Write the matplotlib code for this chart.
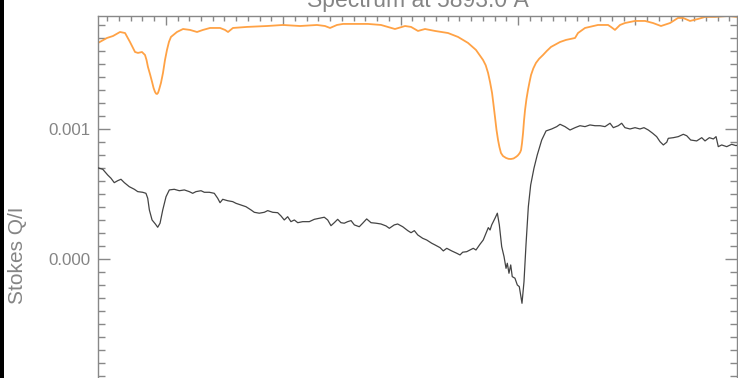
import matplotlib
matplotlib.use("Agg")
import matplotlib.pyplot as plt
from matplotlib.ticker import MultipleLocator, FormatStrFormatter
from matplotlib.patches import Rectangle
import numpy as np

# ---- data ----
# Stokes Q/I profile (wavelength in Angstrom, Q/I in units of 1e-4)
wl_q = [5886.425, 5886.434, 5886.463, 5886.505, 5886.533, 5886.561, 5886.590, 5886.618, 5886.647,
        5886.689, 5886.732, 5886.761, 5886.803, 5886.831, 5886.846, 5886.860, 5886.883, 5886.911,
        5886.931, 5886.951, 5886.974, 5887.002, 5887.030, 5887.072, 5887.115, 5887.158, 5887.200,
        5887.229, 5887.257, 5887.300, 5887.328, 5887.371, 5887.413, 5887.442, 5887.462, 5887.485,
        5887.527, 5887.570, 5887.598, 5887.641, 5887.683, 5887.726, 5887.754, 5887.796, 5887.839,
        5887.868, 5887.911, 5887.953, 5887.981, 5888.009, 5888.038, 5888.066, 5888.095, 5888.124,
        5888.166, 5888.222, 5888.265, 5888.308, 5888.350, 5888.379, 5888.407, 5888.435, 5888.464,
        5888.492, 5888.520, 5888.549, 5888.578, 5888.606, 5888.648, 5888.677, 5888.711, 5888.748,
        5888.791, 5888.833, 5888.876, 5888.904, 5888.946, 5888.975, 5889.018, 5889.061, 5889.089,
        5889.117, 5889.146, 5889.188, 5889.222, 5889.265, 5889.293, 5889.336, 5889.364, 5889.393,
        5889.435, 5889.478, 5889.506, 5889.529, 5889.563, 5889.591, 5889.619, 5889.642, 5889.676,
        5889.704, 5889.733, 5889.747, 5889.762, 5889.776, 5889.804, 5889.824, 5889.841, 5889.861,
        5889.881, 5889.898, 5889.909, 5889.923, 5889.938, 5889.951, 5889.974, 5889.994, 5890.011,
        5890.034, 5890.051, 5890.068, 5890.088, 5890.108, 5890.136, 5890.164, 5890.202, 5890.239,
        5890.287, 5890.330, 5890.358, 5890.400, 5890.443, 5890.486, 5890.528, 5890.571, 5890.613,
        5890.656, 5890.699, 5890.741, 5890.784, 5890.812, 5890.854, 5890.883, 5890.911, 5890.954,
        5890.997, 5891.039, 5891.073, 5891.110, 5891.147, 5891.181, 5891.210, 5891.238, 5891.267,
        5891.280, 5891.323, 5891.365, 5891.408, 5891.437, 5891.471, 5891.522, 5891.565, 5891.593,
        5891.630, 5891.664, 5891.687, 5891.706, 5891.735, 5891.778, 5891.820, 5891.857, 5891.870]
q_e4 = [7.00, 6.98, 6.90, 6.46, 6.21, 5.87, 6.02, 6.13, 5.87,
        5.56, 5.36, 5.18, 5.13, 5.05, 4.67, 3.77, 3.00, 2.69,
        2.44, 2.75, 3.77, 4.79, 5.31, 5.36, 5.25, 5.31, 5.18,
        5.05, 5.18, 5.25, 5.13, 5.13, 5.05, 4.67, 4.33, 4.59,
        4.48, 4.41, 4.28, 4.15, 4.02, 3.77, 3.59, 3.52, 3.59,
        3.72, 3.59, 3.56, 3.31, 3.00, 3.25, 2.87, 3.00, 2.79,
        2.87, 2.87, 3.05, 3.13, 3.21, 3.00, 2.56, 2.79, 3.05,
        2.79, 2.75, 2.87, 2.95, 2.62, 2.48, 2.75, 3.08, 2.79,
        2.75, 2.69, 2.54, 2.36, 2.62, 2.69, 2.48, 2.18, 2.02,
        2.18, 1.85, 1.59, 1.46, 1.21, 1.08, 0.87, 0.62, 0.82,
        0.62, 0.44, 0.31, 0.52, 0.56, 0.69, 0.82, 0.69, 1.13,
        1.46, 2.10, 2.41, 2.23, 2.62, 3.13, 3.52, 2.62, 0.95,
        0.18, -0.72, -0.33, -1.10, -0.46, -1.36, -1.48, -2.00, -2.13,
        -3.41, -1.75, 1.08, 4.02, 5.69, 6.98, 8.00, 9.15, 9.85,
        10.00, 10.18, 10.36, 10.18, 9.92, 10.10, 10.25, 10.18, 10.31,
        10.25, 10.25, 10.18, 10.44, 10.10, 10.25, 10.44, 10.10, 10.00,
        10.10, 10.00, 10.10, 9.92, 9.67, 9.41, 9.02, 8.77, 8.98,
        9.28, 9.33, 9.41, 9.59, 9.48, 9.15, 9.08, 9.33, 9.08,
        9.33, 9.23, 9.41, 8.64, 8.77, 8.64, 8.82, 8.72, 8.75]

# Intensity spectrum, drawn in the same panel (scaled, units of 1e-4)
wl_i = [5886.423, 5886.499, 5886.550, 5886.610, 5886.653, 5886.695, 5886.738, 5886.763, 5886.797,
        5886.823, 5886.836, 5886.848, 5886.866, 5886.883, 5886.896, 5886.908, 5886.917, 5886.925,
        5886.934, 5886.942, 5886.959, 5886.976, 5886.993, 5887.010, 5887.027, 5887.044,
        5887.095, 5887.147, 5887.206, 5887.266, 5887.317, 5887.377, 5887.462, 5887.504, 5887.530,
        5887.572, 5887.692, 5887.862, 5887.998, 5888.143, 5888.288, 5888.356, 5888.399, 5888.458,
        5888.509, 5888.722, 5888.833, 5888.952, 5889.038, 5889.089, 5889.148, 5889.208, 5889.293,
        5889.404, 5889.489, 5889.574, 5889.642, 5889.702, 5889.725, 5889.745, 5889.762, 5889.779,
        5889.791, 5889.804, 5889.817, 5889.830, 5889.842, 5889.855, 5889.872, 5889.898, 5889.920,
        5889.940, 5889.962, 5889.983, 5889.997, 5890.009, 5890.018, 5890.026, 5890.034, 5890.043,
        5890.051, 5890.060, 5890.072, 5890.085, 5890.098, 5890.111, 5890.130, 5890.153, 5890.180,
        5890.213, 5890.245, 5890.281, 5890.358, 5890.409, 5890.486, 5890.511, 5890.571, 5890.681,
        5890.767, 5890.792, 5890.826, 5890.869, 5890.911, 5890.997, 5891.082, 5891.150, 5891.218,
        5891.295, 5891.363, 5891.406, 5891.465, 5891.533, 5891.593, 5891.678, 5891.789, 5891.865]
i_e4 = [16.62, 17.00, 17.15, 17.46, 17.38, 16.69, 15.92, 15.85, 15.92,
        15.69, 15.30, 14.77, 14.20, 13.62, 13.15, 12.85, 12.72, 12.69,
        12.78, 13.00, 13.55, 14.31, 15.30, 16.08, 16.70, 17.08,
        17.46, 17.69, 17.62, 17.46, 17.62, 17.77, 17.77, 17.62, 17.46,
        17.77, 17.85, 17.92, 18.00, 17.92, 18.00, 17.92, 17.77, 18.00,
        18.08, 18.08, 18.00, 17.69, 17.92, 17.85, 17.54, 17.69, 17.54,
        17.38, 17.08, 16.62, 16.08, 15.31, 14.90, 14.31, 13.60, 12.77,
        11.90, 10.92, 9.92, 9.15, 8.60, 8.15, 7.92, 7.77, 7.70,
        7.69, 7.73, 7.85, 7.95, 8.08, 8.20, 8.38, 8.90, 9.69,
        10.62, 11.46, 12.30, 13.00, 13.60, 14.15, 14.65, 15.08, 15.40,
        15.69, 16.00, 16.31, 16.69, 16.85, 17.00, 17.38, 17.77, 18.00,
        18.00, 17.85, 17.62, 18.00, 18.15, 18.31, 18.31, 18.15, 17.92,
        18.15, 18.54, 18.54, 18.31, 18.46, 18.62, 18.62, 18.69, 18.62]

title = "Spectrum at 5893.0 Å"
ylabel = "Stokes Q/I"

# ---- figure ----
W, H = 738, 378
fig = plt.figure(figsize=(W / 100, H / 100), dpi=100)
fig.patch.set_facecolor("white")
plt.rcParams['font.family'] = ['Liberation Sans', 'DejaVu Sans']

# axes extends below the visible image (cropped chart)
ax_left, ax_right, ax_top, ax_bottom = 98, 737, 16, 494
ax = fig.add_axes([ax_left / W, (H - ax_bottom) / H,
                   (ax_right - ax_left) / W, (ax_bottom - ax_top) / H])

scale = 1e-4
ax.plot(wl_i, np.array(i_e4) * scale, color="#ffa245", lw=1.3, zorder=2,
        solid_joinstyle="round")
ax.plot(wl_q, np.array(q_e4) * scale, color="#444444", lw=0.9, zorder=3)

ax.set_xlim(5886.4225, 5891.8654)
ax.set_ylim(-18.08 * scale, 18.69 * scale)

gray = "#888888"
txt = "#858585"
for s in ax.spines.values():
    s.set_color(gray)
    s.set_linewidth(1.0)

ax.xaxis.set_major_locator(MultipleLocator(1.0))
ax.xaxis.set_minor_locator(MultipleLocator(0.1))
ax.yaxis.set_major_locator(MultipleLocator(0.001))
ax.yaxis.set_minor_locator(MultipleLocator(0.0001))
ax.yaxis.set_major_formatter(FormatStrFormatter("%.3f"))

ax.tick_params(axis="both", which="both", direction="in", color=gray,
               top=True, right=True, labelcolor=txt)
ax.tick_params(axis="x", which="both", labelbottom=False)
ax.tick_params(axis="x", which="major", length=6.5, width=1.0)
ax.tick_params(axis="x", which="minor", length=3.8, width=1.0)
ax.tick_params(axis="y", which="major", length=8.6, width=1.0, pad=5.3, labelsize=12.2)
ax.tick_params(axis="y", which="minor", length=5.0, width=1.0)

ax.set_title(title, color=txt, fontsize=16.5, pad=6.3)
ax.set_ylabel(ylabel, color=txt, fontsize=15.0)
ax.yaxis.set_label_coords((27.5 - ax_left) / (ax_right - ax_left), 0.5)

# dark strip at the left edge of the reference image
fig.patches.append(Rectangle((0, 0), 4 / W, 1, transform=fig.transFigure,
                             facecolor="black", edgecolor="none", zorder=10))

fig.savefig("out.png", dpi=100)
